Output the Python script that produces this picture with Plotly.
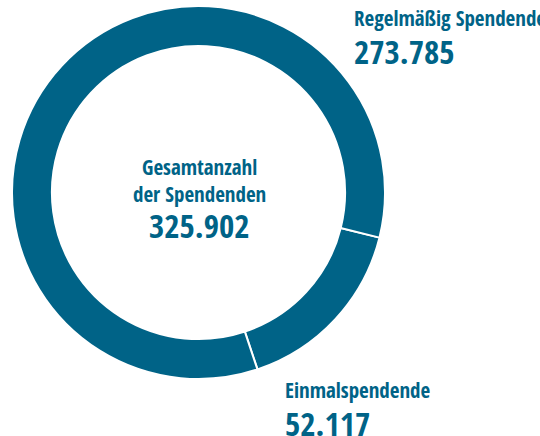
import plotly.graph_objects as go

labels = ["Einmalspendende", "Regelmäßig Spendende"]
values = [52117, 273785]
total_label = "325.902"
value_labels = ["52.117", "273.785"]

BLUE = "#006387"
FONT = "Open Sans Condensed, Roboto Condensed, sans-serif"
W, H = 540, 436

fig = go.Figure(go.Pie(
    labels=labels, values=values, hole=0.786, sort=False,
    direction="clockwise", rotation=104,
    marker=dict(colors=[BLUE, BLUE], line=dict(color="white", width=2)),
    textinfo="none", hoverinfo="label+value", showlegend=False,
    domain=dict(x=[12 / W, 385 / W], y=[1 - 380 / H, 1 - 5 / H]),
))

def px(x, y):
    return x / W, 1 - y / H

anns = [
    ("Regelmäßig Spendende", 352, 18, 21),
    (value_labels[1], 352, 51, 33),
    ("Einmalspendende", 283, 390, 21),
    (value_labels[0], 283, 423, 33),
]
for t, x, y, s in anns:
    ax, ay = px(x, y)
    fig.add_annotation(text=f"<b>{t}</b>", x=ax, y=ay, xref="paper", yref="paper",
                       xanchor="left", yanchor="middle", showarrow=False,
                       font=dict(family=FONT, size=s, color=BLUE))

center = [("Gesamtanzahl", 167.5, 21), ("der Spendenden", 194, 21), (total_label, 225.5, 33)]
for t, y, s in center:
    ax, ay = px(199, y)
    fig.add_annotation(text=f"<b>{t}</b>", x=ax, y=ay, xref="paper", yref="paper",
                       xanchor="center", yanchor="middle", showarrow=False,
                       font=dict(family=FONT, size=s, color=BLUE))

fig.update_layout(width=W, height=H, margin=dict(l=0, r=0, t=0, b=0),
                  paper_bgcolor="white", plot_bgcolor="white")
fig.write_html("out.html", config={"displayModeBar": False},
               post_script="document.body.style.margin='0px';")
